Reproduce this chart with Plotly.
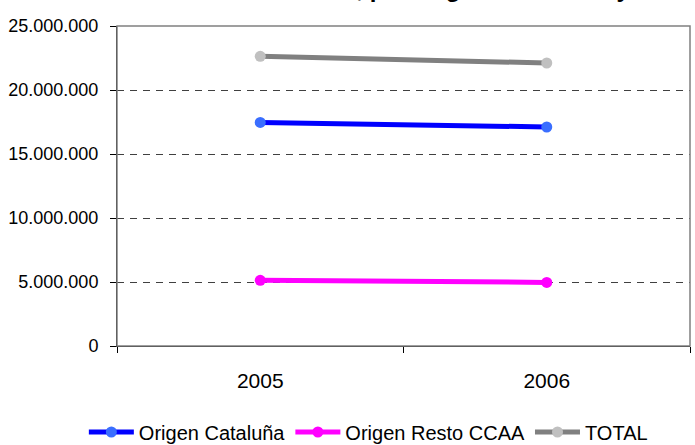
import plotly.graph_objects as go

years = ["2005", "2006"]
cataluna = [17470000, 17110000]
resto = [5130000, 4970000]
total = [22630000, 22110000]
y_ticks = [0, 5000000, 10000000, 15000000, 20000000, 25000000]
title_text = "Número de turistas en Cataluña, por origen del turista y año"

FONT = "Liberation Sans, Arial, sans-serif"

fig = go.Figure()
fig.add_trace(go.Scatter(x=years, y=cataluna, name="Origen Cataluña", mode="lines+markers",
                         line=dict(color="#0000FF", width=5),
                         marker=dict(color="#3A6EFF", size=11)))
fig.add_trace(go.Scatter(x=years, y=resto, name="Origen Resto CCAA", mode="lines+markers",
                         line=dict(color="#FF00FF", width=5),
                         marker=dict(color="#FF00FF", size=11)))
fig.add_trace(go.Scatter(x=years, y=total, name="TOTAL", mode="lines+markers",
                         line=dict(color="#808080", width=5),
                         marker=dict(color="#C0C0C0", size=11)))

fig.update_layout(
    width=695, height=445,
    margin=dict(l=117, r=5, t=26, b=99, autoexpand=False),
    paper_bgcolor="white", plot_bgcolor="white",
    separators=",.",
    font=dict(family=FONT, color="black", size=21),
    showlegend=True,
    legend=dict(orientation="h", xref="container", yref="container",
                x=0.53, xanchor="center", y=13/445, yanchor="middle",
                font=dict(size=20, family=FONT), itemwidth=45,
                traceorder="normal", bgcolor="rgba(0,0,0,0)"),
    xaxis=dict(type="category", range=[-0.5, 1.5], tickson="boundaries",
               ticks="outside", ticklen=6, tickcolor="black",
               showline=True, linecolor="black", linewidth=1,
               showgrid=False, tickfont=dict(size=21, family=FONT),
               ticklabelstandoff=16, fixedrange=True, automargin=False),
    yaxis=dict(range=[0, 25000000], tickvals=y_ticks, tickformat=",.0f",
               ticks="outside", ticklen=6, tickcolor="black",
               showline=True, linecolor="black", linewidth=1,
               showgrid=True, gridcolor="#404040", gridwidth=1, griddash="7px,6px",
               zeroline=False, tickfont=dict(size=18, family=FONT),
               ticklabelstandoff=8, fixedrange=True, automargin=False),
    shapes=[dict(type="rect", xref="paper", yref="paper", x0=0, x1=1, y0=0, y1=1,
                 line=dict(color="#808080", width=1.5), layer="above")],
    annotations=[dict(text="<b>" + title_text + "</b>", xref="paper", yref="paper",
                      x=0.384, y=1, xanchor="center", yanchor="bottom", yshift=22,
                      showarrow=False, font=dict(size=24, family=FONT, color="black"))],
)

fig.write_html("out.html", config={"displayModeBar": False},
               post_script="document.body.style.margin='0px';")
